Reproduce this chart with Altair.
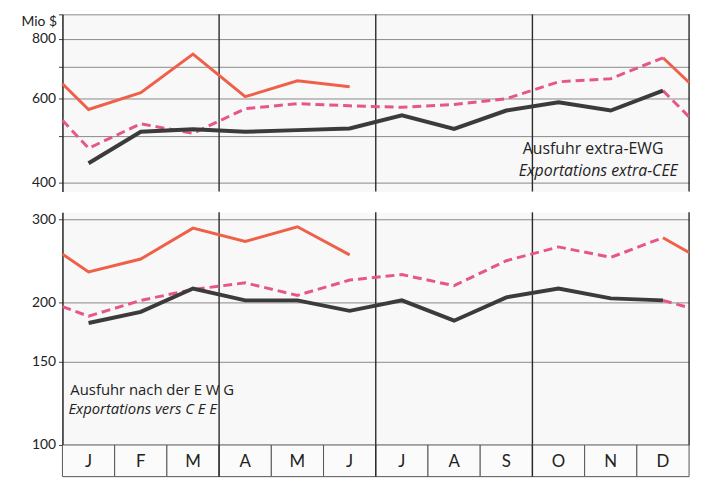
import altair as alt
import pandas as pd

months = ["J", "F", "M", "A", "M", "J", "J", "A", "S", "O", "N", "D"]
quarters = [3, 6, 9, 12]

# Upper panel: Ausfuhr extra-EWG (Mio $)
top_black = [439, 511, 517, 511, 515, 519, 553, 518, 566, 589, 566, 623]
top_dash = [472, 531, 507, 571, 585, 579, 575, 583, 599, 650, 660, 730]
top_red = [569, 617, 743, 605, 653, 635]
top_dash_start = 540
top_red_start = 644
top_black_to_edge = 549
top_dash_to_edge = 648

# Lower panel: Ausfuhr nach der EWG (Mio $)
bot_black = [181, 191, 214, 202, 202, 192, 202, 183, 205, 214, 204, 202]
bot_dash = [187, 202, 213, 220, 207, 223, 229, 217, 245, 262, 249, 274]
bot_red = [232, 247, 287, 269, 289, 252]
bot_dash_start = 196
bot_red_start = 253
bot_black_to_edge = 195
bot_dash_to_edge = 255

top_text = ["Ausfuhr extra-EWG", "Exportations extra-CEE"]
bot_text = ["Ausfuhr nach der E W G", "Exportations vers C E E"]

BLACK = "#3b3b3b"
PINK = "#e6558c"
RED = "#ef6048"
FONT = "Lato"
TFONT = "Open Sans"


def build(black, dash, red, dash_start, red_start, black_edge, dash_edge):
    rows = []
    for i, v in enumerate(black):
        rows.append(dict(x=i + 0.5, v=v, s="black", g="black"))
    rows.append(dict(x=0, v=dash_start, s="dash", g="dash"))
    for i, v in enumerate(dash):
        rows.append(dict(x=i + 0.5, v=v, s="dash", g="dash"))
    rows.append(dict(x=11.5, v=black[-1], s="dash", g="dash_tail"))
    rows.append(dict(x=12, v=black_edge, s="dash", g="dash_tail"))
    rows.append(dict(x=0, v=red_start, s="red", g="red"))
    for i, v in enumerate(red):
        rows.append(dict(x=i + 0.5, v=v, s="red", g="red"))
    rows.append(dict(x=11.5, v=dash[-1], s="red", g="red_tail"))
    rows.append(dict(x=12, v=dash_edge, s="red", g="red_tail"))
    return pd.DataFrame(rows)


xscale = alt.Scale(domain=[0, 12], nice=False, zero=False)


def panel(df, domain, height, values, label_expr, texts, text_pos, text_size, axis_title):
    axis_kwargs = dict(
        values=values, format="d", labelExpr=label_expr, grid=True,
        gridColor="#6d6d6d", gridWidth=0.8, domainColor="#222", domainWidth=1.5,
        tickColor="#444", tickSize=4, labelFont=FONT, labelFontSize=14,
        labelColor="#222", labelPadding=3,
    )
    if axis_title:
        axis_kwargs.update(
            title=axis_title, titleAngle=0, titleAlign="right", titleX=-6, titleY=0,
            titleBaseline="top", titleFont=FONT, titleFontSize=14,
            titleFontWeight="normal", titleColor="#222",
        )
    else:
        axis_kwargs.update(title="")
    ys = alt.Y("v:Q", scale=alt.Scale(type="log", domain=domain, nice=False), axis=alt.Axis(**axis_kwargs))
    xs = alt.X("x:Q", scale=xscale, axis=None)
    base = alt.Chart(df)
    rules = alt.Chart(pd.DataFrame({"q": quarters})).mark_rule(
        color="#2a2a2a", strokeWidth=1.4
    ).encode(x=alt.X("q:Q", scale=xscale, axis=None))
    dash = base.transform_filter("datum.s == 'dash'").mark_line(
        color=PINK, strokeWidth=3, strokeDash=[9, 5]
    ).encode(x=xs, y=ys, detail="g:N")
    red = base.transform_filter("datum.s == 'red'").mark_line(
        color=RED, strokeWidth=3
    ).encode(x=xs, y=ys, detail="g:N")
    black = base.transform_filter("datum.s == 'black'").mark_line(
        color=BLACK, strokeWidth=4
    ).encode(x=xs, y=ys, detail="g:N")
    layers = [rules, dash, red, black]
    for (t, italic), (px, py) in zip(texts, text_pos):
        kw = dict(align="left", baseline="middle", font=TFONT, fontSize=text_size, color="#222")
        if italic:
            kw["fontStyle"] = "italic"
        layers.append(
            alt.Chart(pd.DataFrame({"t": [t]})).mark_text(**kw).encode(
                text="t:N", x=alt.value(px), y=alt.value(py)
            )
        )
    return alt.layer(*layers).properties(width=633, height=height)


top_df = build(top_black, top_dash, top_red, top_dash_start, top_red_start,
               top_black_to_edge, top_dash_to_edge)
bot_df = build(bot_black, bot_dash, bot_red, bot_dash_start, bot_red_start,
               bot_black_to_edge, bot_dash_to_edge)

top = panel(
    top_df, [383, 900], 179, [400, 500, 600, 700, 800, 900],
    "datum.value % 200 == 0 ? datum.label : ''",
    [(top_text[0], False), (top_text[1], True)], [(465, 136), (461, 158)], 16, "Mio $",
)
bottom = panel(
    bot_df, [100, 310], 235, [100, 150, 200, 300], "datum.label",
    [(bot_text[0], False), (bot_text[1], True)], [(8, 180), (6, 199)], 15, None,
)

band_df = pd.DataFrame({"m": months, "i": list(range(12))})
band_base = alt.Chart(band_df).transform_calculate(
    start="datum.i", end="datum.i + 1", mid="datum.i + 0.5"
)
BAND_H = 32
band_rect = band_base.mark_rect(fill="#fbfbfb", stroke="#555", strokeWidth=1).encode(
    x=alt.X("start:Q", scale=xscale, axis=None), x2="end:Q",
    y=alt.value(0), y2=alt.value(BAND_H),
)
band_text = band_base.mark_text(font=FONT, fontSize=17, color="#222", baseline="middle").encode(
    x=alt.X("mid:Q", scale=xscale, axis=None), y=alt.value(BAND_H / 2 + 1), text="m:N"
)
band_rules = alt.Chart(pd.DataFrame({"q": quarters[:3]})).mark_rule(
    color="#2a2a2a", strokeWidth=1.4
).encode(x=alt.X("q:Q", scale=xscale, axis=None))
band = alt.layer(band_rect, band_rules, band_text).properties(width=633, height=BAND_H)

chart = alt.vconcat(
    top,
    alt.vconcat(bottom, band, spacing=0, bounds="flush"),
    spacing=21, bounds="flush",
).properties(
    padding={"left": 12, "top": 2, "right": 0, "bottom": 0},
    background="white",
).configure_view(stroke="transparent", fill="#f8f8f8")

chart.save("out.html", embed_options={"renderer": "svg", "actions": False})
